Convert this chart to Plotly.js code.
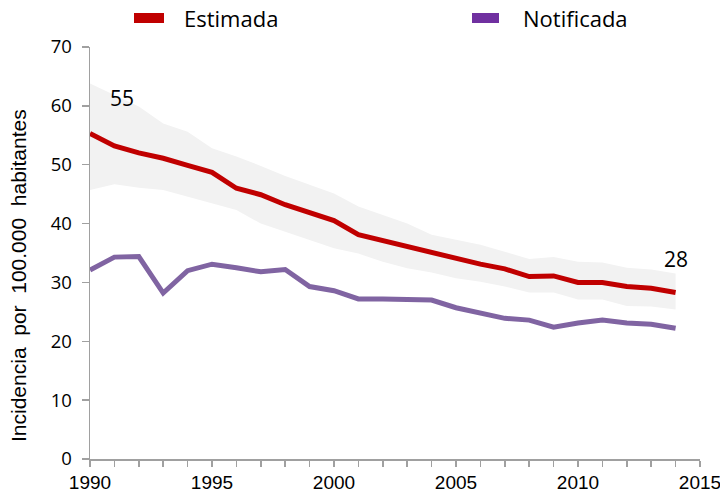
<!DOCTYPE html>
<html>
<head>
<meta charset="utf-8">
<script src="https://cdn.plot.ly/plotly-3.0.1.min.js"></script>
<style>html,body{margin:0;padding:0;background:#fff}#chart{width:720px;height:497px}</style>
</head>
<body>
<div id="chart"></div>
<script>
const years = [1990,1991,1992,1993,1994,1995,1996,1997,1998,1999,2000,2001,2002,2003,2004,2005,2006,2007,2008,2009,2010,2011,2012,2013,2014];
const estimada = [55.3,53.2,52.0,51.1,49.9,48.7,46.0,44.9,43.2,41.8,40.5,38.1,37.1,36.2,35.0,34.0,33.1,32.3,31.0,31.1,30.0,30.0,29.3,29.0,28.3];
const bandaSuperior = [63.8,61.8,59.9,57.0,55.6,52.8,51.4,49.8,48.1,46.6,45.1,42.9,41.5,40.0,38.1,37.2,36.4,35.2,34.0,34.3,33.5,33.4,32.5,32.2,31.5];
const bandaInferior = [45.7,46.7,46.1,45.7,44.6,43.4,42.3,40.0,38.6,37.2,35.8,34.9,33.5,32.4,31.7,30.7,30.1,29.3,28.3,28.3,27.1,27.1,26.0,25.9,25.4];
const notificada = [32.1,34.3,34.4,28.2,32.0,33.1,32.5,31.8,32.2,29.3,28.6,27.2,27.2,27.2,27.0,25.7,24.7,23.9,23.6,22.4,23.1,23.6,23.1,22.9,22.2];
const seriesNames = ['Estimada','Notificada'];
const yTitle = 'Incidencia  por  100.000  habitantes';
const firstLabel = '55';
const lastLabel = '28';

const bandX = years.concat(years.slice().reverse());
const bandY = bandaSuperior.concat(bandaInferior.slice().reverse());

const traces = [
  {x: bandX, y: bandY, type:'scatter', mode:'lines', fill:'toself', fillcolor:'#f2f2f2', line:{width:0, color:'rgba(0,0,0,0)'}, showlegend:false, hoverinfo:'skip'},
  {x: years, y: estimada, type:'scatter', mode:'lines', line:{color:'#c00000', width:5}, showlegend:false},
  {x: years, y: notificada, type:'scatter', mode:'lines', line:{color:'#8064a2', width:5}, showlegend:false}
];

const tickFontX = {family:'"Liberation Sans Narrow", "Arial Narrow", "Liberation Sans", Arial, sans-serif', size:19, color:'#000'};
const tickFontY = {family:'"Open Sans", "Noto Sans", sans-serif', size:18.5, color:'#000'};
const legFont = {family:'"Open Sans", "Noto Sans", sans-serif', size:22, color:'#000'};
const layout = {
  width:720, height:497,
  margin:{l:90, r:20, t:47, b:38},
  paper_bgcolor:'#fff', plot_bgcolor:'#fff',
  showlegend:false,
  xaxis:{range:[1990,2015], tickmode:'linear', tick0:1990, dtick:5, ticks:'outside', ticklen:6, tickcolor:'#a0a0a0', tickwidth:1.5,
    ticklabeloverflow:'allow',
    showline:true, linecolor:'#a0a0a0', linewidth:1.5, showgrid:false, zeroline:false, tickfont:tickFontX,
    minor:{dtick:1, tick0:1990, ticks:'outside', ticklen:6, tickcolor:'#a0a0a0', tickwidth:1.5, showgrid:false}},
  yaxis:{range:[0,70], tickmode:'linear', tick0:0, dtick:10, ticks:'outside', ticklen:7, tickcolor:'#a0a0a0', tickwidth:1.5,
    ticklabelstandoff:6,
    showline:true, linecolor:'#a0a0a0', linewidth:1.5, showgrid:false, zeroline:false, tickfont:tickFontY},
  shapes:[
    {type:'rect', xref:'paper', yref:'paper', x0:44/610, x1:74/610, y0:(497-13-38)/412, y1:(497-23-38)/412, fillcolor:'#c00000', line:{width:0}},
    {type:'rect', xref:'paper', yref:'paper', x0:382/610, x1:409/610, y0:(497-13-38)/412, y1:(497-23-38)/412, fillcolor:'#7030a0', line:{width:0}}
  ],
  annotations:[
    {text:seriesNames[0], xref:'paper', yref:'paper', x:92/610, y:(497-18-38)/412, xanchor:'left', yanchor:'middle', showarrow:false, font:legFont},
    {text:seriesNames[1], xref:'paper', yref:'paper', x:431/610, y:(497-18-38)/412, xanchor:'left', yanchor:'middle', showarrow:false, font:legFont},
    {text:firstLabel, x:years[1]+0.3, y:estimada[0]+6, xanchor:'center', yanchor:'middle', showarrow:false, font:{family:'"Open Sans", "Noto Sans", sans-serif', size:21, color:'#000'}},
    {text:lastLabel, x:years[years.length-1], y:estimada[estimada.length-1]+5.6, xanchor:'center', yanchor:'middle', showarrow:false, font:{family:'"Open Sans", "Noto Sans", sans-serif', size:21, color:'#000'}},
    {text:yTitle, xref:'paper', yref:'paper', x:-72/610, y:(459-276)/412, xanchor:'center', yanchor:'middle', textangle:-90, showarrow:false, font:{family:'"Liberation Sans", Arial, sans-serif', size:21, color:'#000'}}
  ]
};
Plotly.newPlot('chart', traces, layout, {staticPlot:true, displayModeBar:false});
</script>
</body>
</html>
